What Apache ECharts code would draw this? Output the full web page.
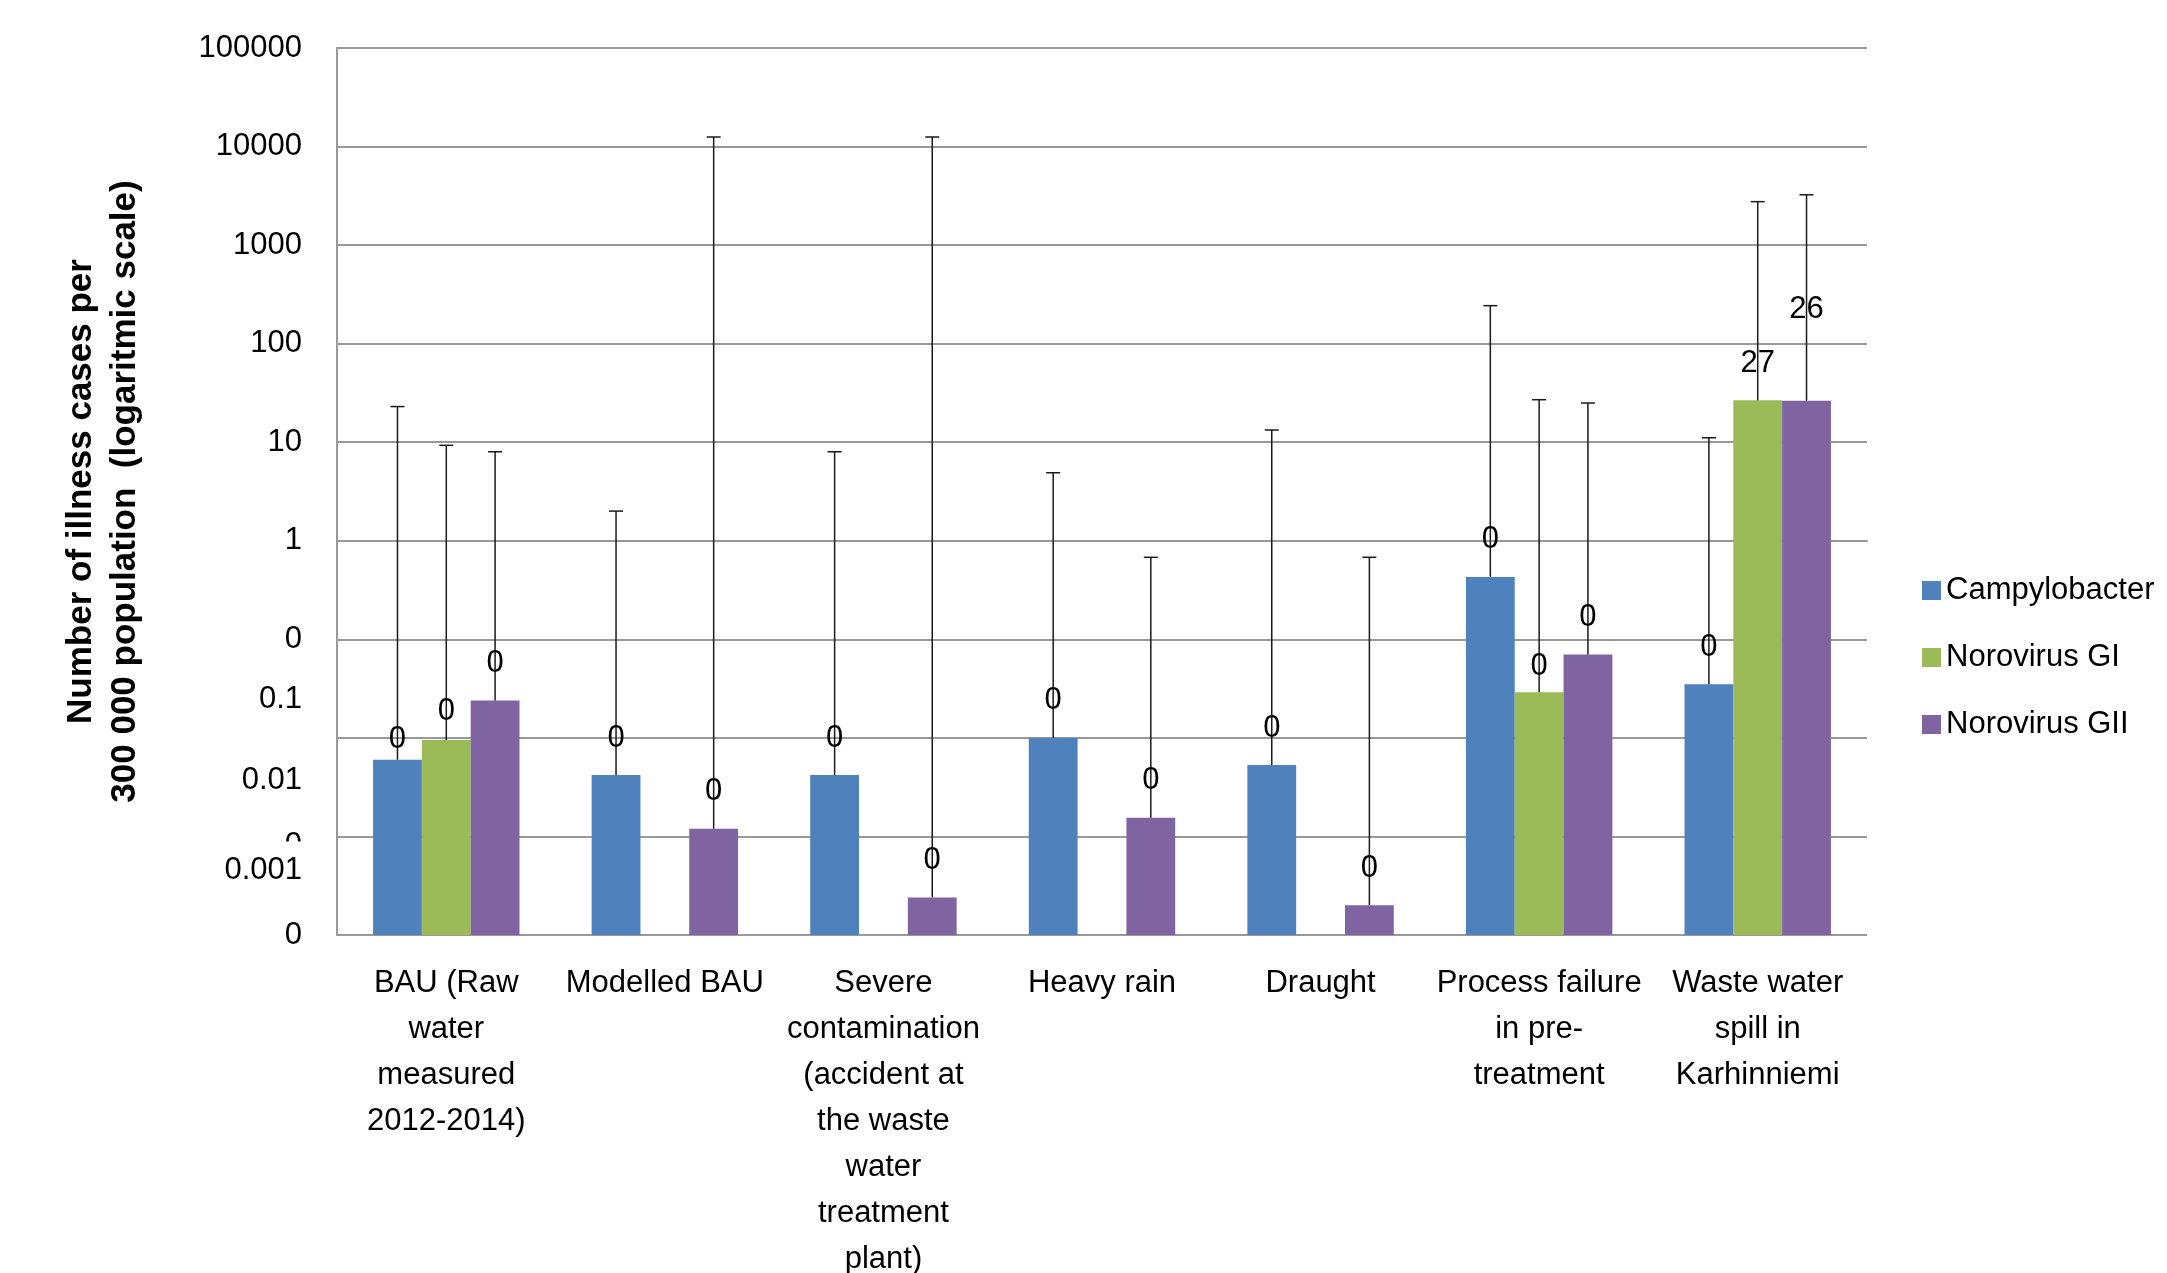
<!DOCTYPE html>
<html>
<head>
<meta charset="utf-8">
<title>Illness cases per scenario</title>
<script src="https://cdn.jsdelivr.net/npm/echarts@6.0.0/dist/echarts.min.js"></script>
<style>
  html, body { margin: 0; padding: 0; background: #fff; }
  #main { width: 2167px; height: 1273px; }
</style>
</head>
<body>
<div id="main"></div>
<script>
const chart = echarts.init(document.getElementById('main'))

const scenarios = [
  'BAU (Raw\nwater\nmeasured\n2012-2014)',
  'Modelled BAU',
  'Severe\ncontamination\n(accident at\nthe waste\nwater\ntreatment\nplant)',
  'Heavy rain',
  'Draught',
  'Process failure\nin pre-\ntreatment',
  'Waste water\nspill in\nKarhinniemi'
]
const pathogens = ['Campylobacter', 'Norovirus GI', 'Norovirus GII']
const colors = ['#4F81BD', '#9BBB59', '#8064A2']

// cases per 300 000 population (null = not modelled)
const campylobacter = [0.006, 0.0042, 0.0042, 0.010, 0.0053, 0.43, 0.035]
const norovirusGI = [0.0095, null, null, null, null, 0.029, 26.6]
const norovirusGII = [0.024, 0.0012, 0.00024, 0.00155, 0.0002, 0.070, 26.4]

// upper end of error bars
const campylobacterUp = [23, 2.0, 8.0, 4.9, 13.3, 243, 11.1]
const norovirusGIUp = [9.3, null, null, null, null, 27, 2760]
const norovirusGIIUp = [8.0, 12500, 12500, 0.68, 0.68, 25, 3240]

// y tick labels as printed on the original (log10 position -> text)
const yTickPos = [5, 4, 3, 2, 1, 0, -1, -1.61, -2.43, -3.09, -3.35, -4]
const yTickText = ['100000', '10000', '1000', '100', '10', '1', '0', '0.1', '0.01', '0', '0.001', '0']

const FONT = 'Liberation Sans'
const values = [campylobacter, norovirusGI, norovirusGII]
const uppers = [campylobacterUp, norovirusGIUp, norovirusGIIUp]

// label distance above bar top (a few were moved by hand in the original)
const labelLift = { '0-0': 20, '1-0': 29, '1-5': 26, '2-6': 91 }

function makeRenderItem(k) {
  return function (params, api) {
    let cat = api.value(0)
    let val = api.value(1)
    let up = api.value(2)
    let catW = api.size([1, 0])[0]
    let barW = catW * 0.67 / 3
    let topPt = api.coord([cat, val])
    let x0 = topPt[0] - barW * 1.5 + k * barW
    let xm = x0 + barW / 2
    let top = topPt[1]
    let base = api.coord([cat, 0.0001])[1]
    let upY = api.coord([cat, up])[1]
    let lift = labelLift[k + '-' + cat] || 37
    return {
      type: 'group',
      children: [
        { type: 'rect', shape: { x: x0, y: top, width: barW, height: base - top }, style: { fill: colors[k] } },
        { type: 'line', shape: { x1: xm, y1: top, x2: xm, y2: upY }, style: { stroke: '#1a1a1a', lineWidth: 1.5 } },
        { type: 'line', shape: { x1: xm - 7, y1: upY, x2: xm + 7, y2: upY }, style: { stroke: '#1a1a1a', lineWidth: 1.5 } },
        {
          type: 'text', x: xm, y: top - lift,
          style: { text: String(Math.round(val)), fill: '#000', fontSize: 31, fontFamily: FONT, align: 'center', verticalAlign: 'middle' }
        }
      ]
    }
  }
}

let series = []
pathogens.forEach((name, k) => {
  let data = []
  values[k].forEach((v, i) => {
    if (v !== null) data.push([i, v, uppers[k][i]])
  })
  series.push({
    name: name,
    type: 'custom',
    renderItem: makeRenderItem(k),
    itemStyle: { color: colors[k] },
    encode: { x: 0, y: 1 },
    data: data
  })
})

let option = {
  backgroundColor: '#fff',
  animation: false,
  grid: {
    left: 337,
    right: 300,
    top: 48,
    bottom: 338,
    containLabel: false,
    outerBoundsMode: 'none'
  },
  legend: {
    data: pathogens,
    orient: 'vertical',
    left: 1917,
    top: 570,
    icon: 'rect',
    itemWidth: 19,
    itemHeight: 19,
    itemGap: 36,
    textStyle: { color: '#000', fontSize: 31, fontFamily: FONT, lineHeight: 31 }
  },
  xAxis: {
    type: 'category',
    data: scenarios,
    axisLine: { lineStyle: { color: '#999', width: 2 } },
    axisTick: { show: false },
    axisLabel: {
      interval: 0,
      color: '#000',
      fontSize: 31,
      fontFamily: FONT,
      lineHeight: 46,
      margin: 25
    }
  },
  yAxis: [
    {
      type: 'log',
      logBase: 10,
      min: 0.0001,
      max: 100000,
      name: 'Number of illness cases per\n300 000 population  (logaritmic scale)',
      nameLocation: 'middle',
      nameRotate: 90,
      nameGap: 190,
      nameTextStyle: { color: '#000', fontSize: 35, fontWeight: 'bold', fontFamily: FONT, lineHeight: 44 },
      axisLine: { show: true, lineStyle: { color: '#999', width: 2 } },
      axisTick: { show: false },
      axisLabel: { show: false },
      splitLine: { show: true, lineStyle: { color: '#999', width: 2 } }
    },
    {
      type: 'value',
      min: -4,
      max: 5,
      position: 'left',
      axisLine: { show: false },
      axisTick: { show: false },
      splitLine: { show: false },
      axisLabel: {
        customValues: yTickPos,
        margin: 35,
        color: '#000',
        fontSize: 31,
        fontFamily: FONT,
        formatter: function (v) {
          let t = yTickText[yTickPos.indexOf(v)]
          return t === '0.001' ? '{cover|' + t + '}' : t
        },
        rich: {
          cover: {
            backgroundColor: '#fff',
            padding: [14, 0, 14, 0],
            fontSize: 31,
            fontFamily: FONT,
            color: '#000',
            lineHeight: 31
          }
        }
      }
    }
  ],
  series: series
}

chart.setOption(option)
</script>
</body>
</html>
